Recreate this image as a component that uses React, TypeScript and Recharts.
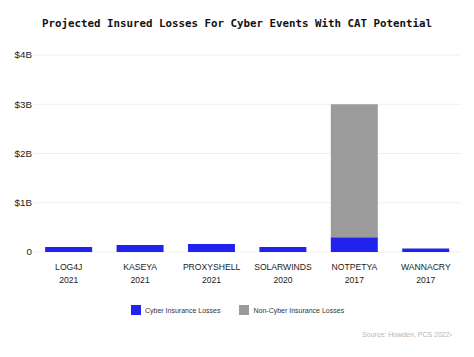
import { BarChart, Bar, XAxis, YAxis, CartesianGrid } from "recharts";

const EVENTS = ["LOG4J", "KASEYA", "PROXYSHELL", "SOLARWINDS", "NOTPETYA", "WANNACRY"];
const YEARS = ["2021", "2021", "2021", "2020", "2017", "2017"];
// billions of USD
const CYBER = [0.1, 0.14, 0.16, 0.1, 0.3, 0.07];
const NON_CYBER = [0, 0, 0, 0, 2.7, 0];
const Y_TICKS = [0, 1, 2, 3, 4];

const BLUE = "#2222ee";
const GREY = "#9b9b9b";
const SANS = "'Liberation Sans', Arial, sans-serif";

const data = EVENTS.map((name, i) => ({
  name,
  year: YEARS[i],
  cyber: CYBER[i],
  nonCyber: NON_CYBER[i],
}));

function CategoryTick({ x, y, payload, index }: any) {
  return (
    <g transform={`translate(${x},${y})`}>
      <text textAnchor="middle" fontSize={8.6} fill="#222" fontFamily={SANS}>
        <tspan x={0} dy={18.3}>{payload.value}</tspan>
        <tspan x={0} dy={12.4}>{YEARS[index]}</tspan>
      </text>
    </g>
  );
}

const legendItems = [
  { label: "Cyber Insurance Losses", color: BLUE },
  { label: "Non-Cyber Insurance Losses", color: GREY },
];

export default function App() {
  return (
    <div
      style={{
        position: "absolute",
        left: 0,
        top: 0,
        width: 474,
        height: 357,
        background: "#fff",
        fontFamily: SANS,
      }}
    >
      <div
        style={{
          position: "absolute",
          top: 17,
          width: 474,
          textAlign: "center",
          fontFamily: "'DejaVu Sans Mono', monospace",
          fontWeight: "bold",
          fontSize: 10.8,
          color: "#111",
        }}
      >
        Projected Insured Losses For Cyber Events With CAT Potential
      </div>
      <BarChart
        width={474}
        height={357}
        data={data}
        margin={{ top: 55, right: 12.5, left: 0, bottom: 75 }}
        barCategoryGap="17%"
      >
        <CartesianGrid vertical={false} stroke="#efefef" />
        <XAxis
          dataKey="name"
          axisLine={false}
          tickLine={false}
          tickSize={0}
          tickMargin={0}
          height={30}
          interval={0}
          tick={<CategoryTick />}
        />
        <YAxis
          width={33}
          domain={[0, 4]}
          ticks={Y_TICKS}
          axisLine={false}
          tickLine={false}
          tickSize={0}
          tickMargin={1}
          tick={{ fontSize: 9.8, fill: "#222", fontFamily: SANS }}
          tickFormatter={(v: number) => (v === 0 ? "0" : `$${v}B`)}
        />
        <Bar dataKey="cyber" stackId="a" fill={BLUE} isAnimationActive={false} />
        <Bar dataKey="nonCyber" stackId="a" fill={GREY} isAnimationActive={false} />
      </BarChart>
      <div
        style={{
          position: "absolute",
          left: 131,
          top: 305,
          display: "flex",
          alignItems: "center",
          fontSize: 7,
          color: "#333",
        }}
      >
        {legendItems.map((item, i) => (
          <div
            key={item.label}
            style={{ display: "flex", alignItems: "center", marginRight: i === 0 ? 19 : 0 }}
          >
            <span
              style={{
                display: "inline-block",
                width: 10,
                height: 10,
                background: item.color,
                marginRight: 4,
              }}
            />
            <span>{item.label}</span>
          </div>
        ))}
      </div>
      <div
        style={{
          position: "absolute",
          right: 22,
          top: 331,
          fontSize: 7,
          color: "#b5b5b5",
        }}
      >
        Source: Howden, PCS 2022¹
      </div>
    </div>
  );
}
